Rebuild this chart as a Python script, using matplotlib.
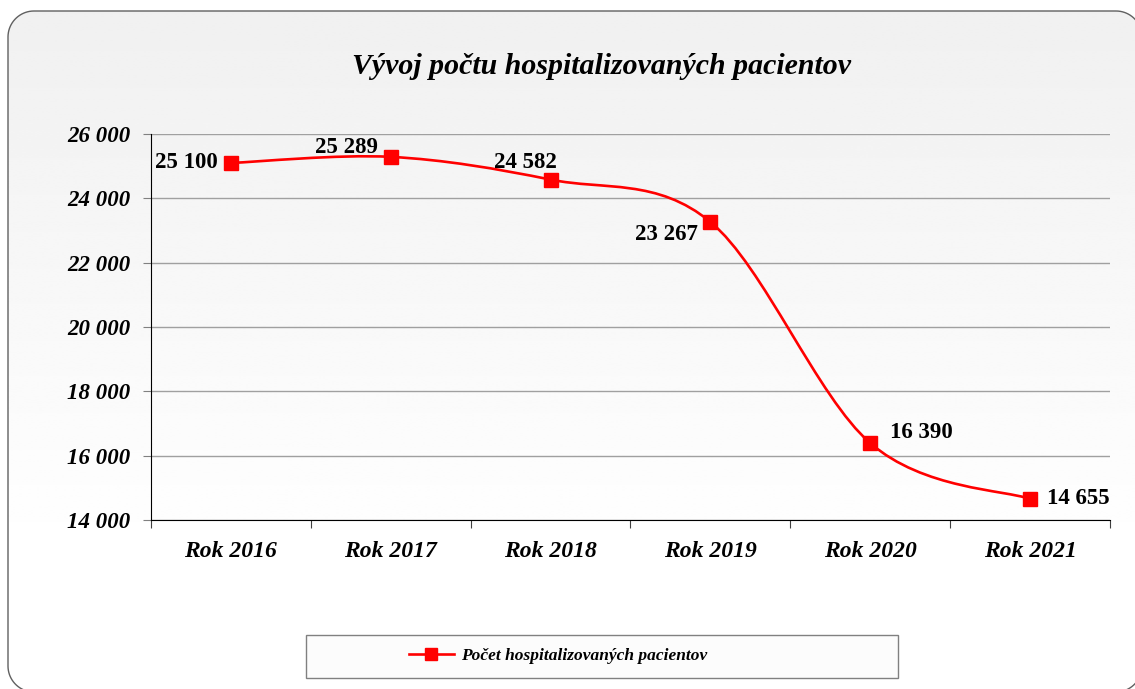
import numpy as np
import matplotlib
matplotlib.use('Agg')
import matplotlib.pyplot as plt
from matplotlib.path import Path
from matplotlib.patches import PathPatch, Rectangle
from matplotlib.lines import Line2D

# data
years = ['Rok 2016', 'Rok 2017', 'Rok 2018', 'Rok 2019', 'Rok 2020', 'Rok 2021']
patients = [25100, 25289, 24582, 23267, 16390, 14655]
yticks = [14000, 16000, 18000, 20000, 22000, 24000, 26000]
title = 'Vývoj počtu hospitalizovaných pacientov'
series_name = 'Počet hospitalizovaných pacientov'

plt.rcParams['font.family'] = ['Liberation Serif', 'DejaVu Serif']

W, H = 1135, 689
fig = plt.figure(figsize=(W / 100, H / 100), dpi=100)
fig.set_facecolor('white')

# background axes in pixel coords (y down)
bg = fig.add_axes([0, 0, 1, 1], zorder=-10)
bg.axis('off')
grad = np.concatenate([np.linspace(0.94, 1.0, 256), np.ones(60)])
im = bg.imshow(np.tile(grad[:, None], (1, 2)), cmap='gray', vmin=0, vmax=1,
               extent=[0, W, H, 0], aspect='auto', zorder=1,
               interpolation='bilinear')
bg.set_xlim(0, W)
bg.set_ylim(H, 0)

# rounded outline as a polyline (corners sampled)
r = 26
left, top, right, bottom = 8, 11, 1142, 692
corners = [((right - r, top + r), -90, 0), ((right - r, bottom - r), 0, 90),
           ((left + r, bottom - r), 90, 180), ((left + r, top + r), 180, 270)]
outline = []
for (cx, cy), a0, a1 in corners:
    t = np.radians(np.linspace(a0, a1, 20))
    outline += list(zip(cx + r * np.cos(t), cy + r * np.sin(t)))
outline.append(outline[0])
box = PathPatch(Path(outline), facecolor='none', edgecolor='#606060',
                lw=1.0, zorder=3)
bg.add_patch(box)
im.set_clip_path(box)

# legend box
bg.add_patch(Rectangle((306, 635), 592, 43, facecolor='#fcfcfc',
                       edgecolor='#808080', lw=1.0, zorder=4))

# main axes
ax = fig.add_axes([151 / W, 1 - 520 / H, 959 / W, 386 / H])
ax.patch.set_alpha(0)
x = np.arange(len(years))
ax.set_xlim(-0.5, len(years) - 0.5)
ax.set_ylim(14000, 26000)

# smoothed line (Catmull-Rom style bezier segments, like Excel smoothing)
pts = np.column_stack([x, patients]).astype(float)
verts = [pts[0]]
codes = [Path.MOVETO]
n = len(pts)
for i in range(n - 1):
    p0 = pts[max(i - 1, 0)]
    p1 = pts[i]
    p2 = pts[i + 1]
    p3 = pts[min(i + 2, n - 1)]
    c1 = p1 + (p2 - p0) / 6
    c2 = p2 - (p3 - p1) / 6
    verts += [c1, c2, p2]
    codes += [Path.CURVE4] * 3
ax.add_patch(PathPatch(Path(verts, codes), facecolor='none',
                       edgecolor='#ff0000', lw=1.9, zorder=3, clip_on=False))
ax.plot(x, patients, linestyle='none', marker='s', markersize=10,
        color='#ff0000', zorder=4, clip_on=False)

fmt = lambda v: f'{v:,}'.replace(',', ' ')

# data labels (offsets in pixels)
offsets = [(-13, 0, 'right', 'center'),
           (-13, 4, 'right', 'baseline'),
           (6, 12, 'right', 'baseline'),
           (-13, -13, 'right', 'center'),
           (20, 11, 'left', 'center'),
           (17, 0, 'left', 'center')]
for xi, v, (dx, dy, ha, va) in zip(x, patients, offsets):
    ax.annotate(fmt(v), (xi, v), xytext=(dx, dy), textcoords='offset pixels',
                ha=ha, va=va, fontsize=16.5, fontweight='bold', color='black',
                zorder=5)

# axes styling
ax.set_yticks(yticks)
ax.set_yticklabels([fmt(v) for v in yticks], fontsize=16.5,
                   fontweight='bold', fontstyle='italic')
ax.yaxis.grid(True, color='#a0a0a0', lw=1.0)
ax.set_axisbelow(True)
ax.tick_params(axis='y', length=6, color='#808080', pad=9)

ax.set_xticks(np.arange(len(years) + 1) - 0.5)
ax.set_xticklabels([])
ax.set_xticks(x, minor=True)
ax.set_xticklabels(years, minor=True, fontsize=17, fontweight='bold',
                   fontstyle='italic')
ax.tick_params(axis='x', which='major', length=6, color='#404040')
ax.tick_params(axis='x', which='minor', length=0, pad=15)

for s in ['top', 'right']:
    ax.spines[s].set_visible(False)
ax.spines['left'].set_color('black')
ax.spines['bottom'].set_color('black')

fig.text(602 / W, 1 - 67 / H, title, ha='center', va='center', fontsize=21.5,
         fontweight='bold', fontstyle='italic')

handle = Line2D([], [], color='#ff0000', lw=1.9, marker='s', markersize=9)
fig.legend([handle], [series_name], loc='center',
           bbox_to_anchor=(558 / W, 1 - 656 / H), frameon=False,
           prop={'size': 12.5, 'weight': 'bold', 'style': 'italic'},
           handlelength=2.6, handletextpad=0.4)

fig.savefig('out.png', dpi=100, facecolor='white')
